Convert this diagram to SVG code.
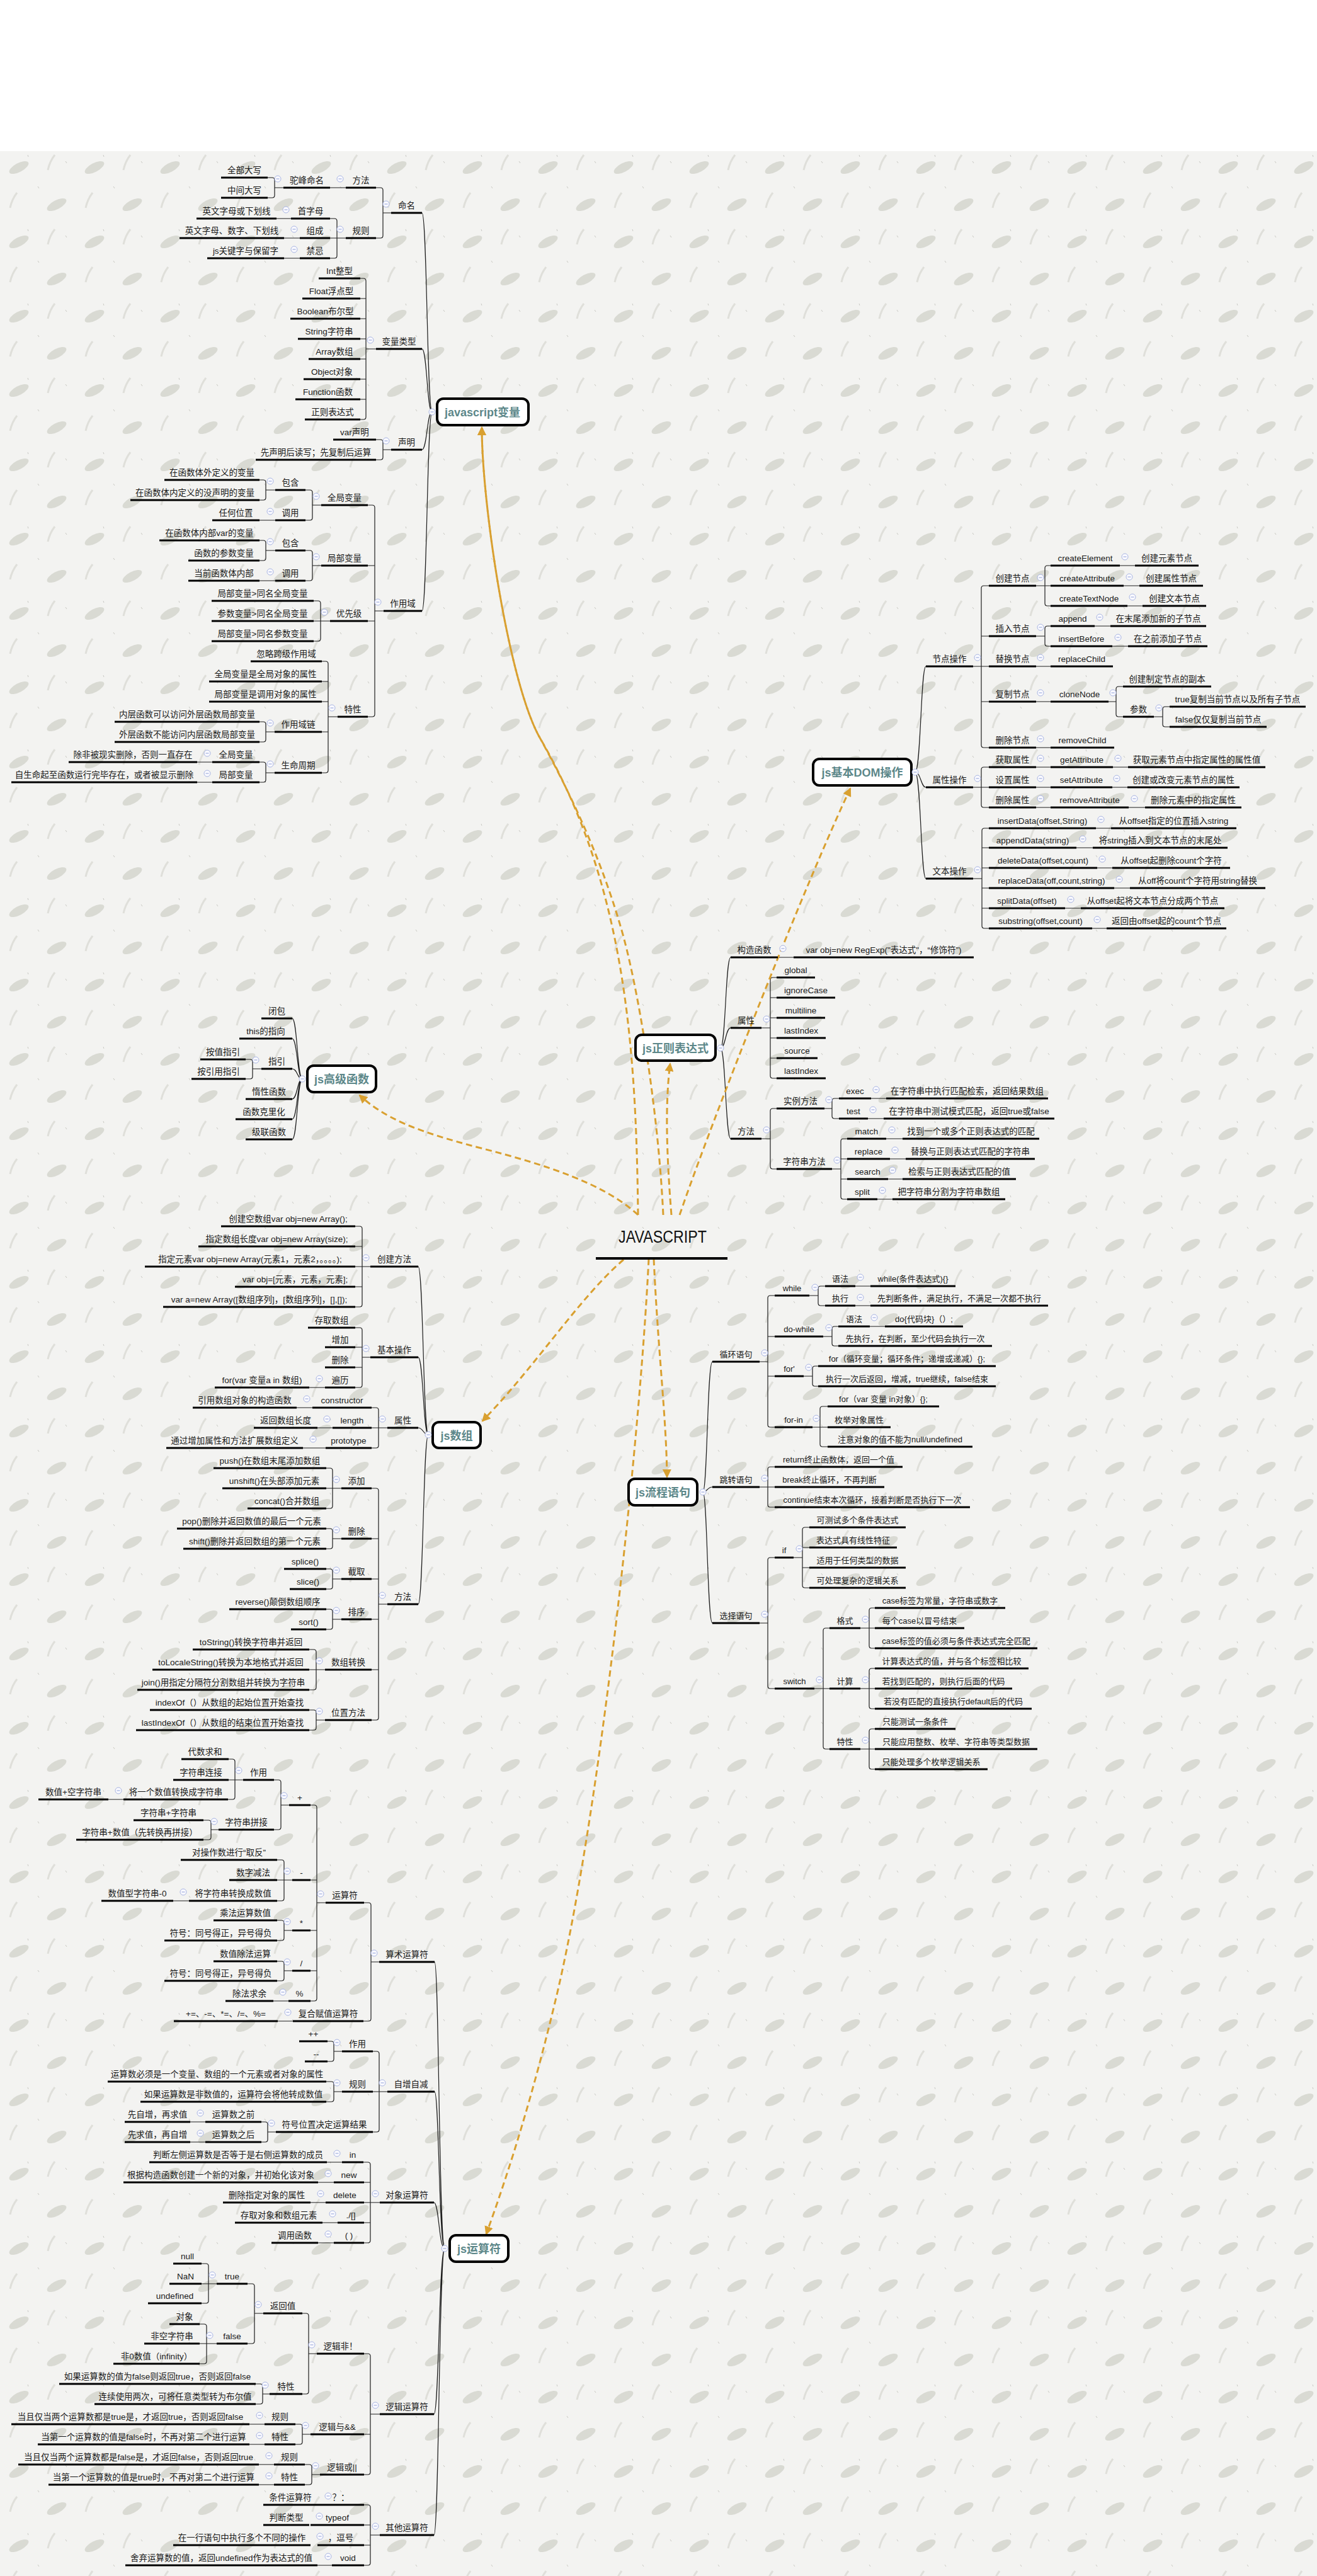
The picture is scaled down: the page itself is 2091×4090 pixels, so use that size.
<svg xmlns="http://www.w3.org/2000/svg" width="2091" height="4090" viewBox="0 0 2091 4090">
<defs>
<pattern id="bg" width="120" height="118" patternUnits="userSpaceOnUse">
<rect width="120" height="118" fill="#f3f3f1"/>
<ellipse cx="30" cy="30" rx="17" ry="7" transform="rotate(-28 30 30)" fill="#d9dad3"/>
<ellipse cx="90" cy="89" rx="17" ry="7" transform="rotate(-28 90 89)" fill="#d9dad3"/>
<path d="M76 34q3-14 11-24M16 94q3-14 11-24" stroke="#dfdfda" stroke-width="3" fill="none"/>
<path d="M60 60l2 3M104 20l2 3M44 10l1 3" stroke="#c9c9c4" stroke-width="1"/>
</pattern>
<marker id="ah" markerWidth="16" markerHeight="14" refX="12" refY="7" orient="auto" markerUnits="userSpaceOnUse"><path d="M0 0L14 7L0 14z" fill="#d9a030"/></marker>
<g id="cb"><circle r="5" fill="#fafaff" stroke="#a9b5e2" stroke-width="1"/><path d="M-2.5 0H2.5" stroke="#8f9fd6" stroke-width="1"/></g>
</defs>
<style>
.nd text{font-family:"Liberation Sans","Noto Sans CJK SC",sans-serif;font-size:13.5px;fill:#1a1a1a;text-anchor:middle}
.sm text{font-size:13px}
.nd path{stroke:#000;stroke-width:3;fill:none}
#connectors path{stroke:#1e1e1e;stroke-width:1.2;fill:none}
.box rect{fill:#fff;stroke:#000;stroke-width:4}
.box text{font-family:"Liberation Sans","Noto Sans CJK SC",sans-serif;font-weight:bold;font-size:18px;fill:#5c8789;text-anchor:middle}
.rel{stroke:#d9a030;stroke-width:3;fill:none;stroke-dasharray:10 6;marker-end:url(#ah)}
.root text{font-family:"Liberation Sans","Noto Sans CJK SC",sans-serif;font-size:27px;fill:#111;text-anchor:middle}
</style>
<rect width="2091" height="4090" fill="#fff"/>
<rect y="240" width="2091" height="3850" fill="url(#bg)"/>

<g id="connectors">
<path d="M686 654C678 654 678 338 670 338M686 654C678 654 678 554 670 554M686 654C678 654 678 714 670 714M686 654C678 654 678 970 670 970"/>
<path d="M621 338H608M597 298H604Q608 298 608 302V374Q608 378 604 378H597"/>
<path d="M549 298H524M450 298H436M425 282H432Q436 282 436 286V310Q436 314 432 314H425"/>
<path d="M549 378H524M524 347H531Q535 347 535 351V406Q535 410 531 410H524M462 347H439M476 378H451M476 410H451"/>
<path d="M597 554H581M572 442H577Q581 442 581 446V662Q581 666 577 666H572M581 474H572M581 506H572M581 538H572M581 570H572M581 602H572M581 634H572"/>
<path d="M621 714H608M597 698H604Q608 698 608 702V726Q608 730 604 730H597"/>
<path d="M609 970H595M584 802H591Q595 802 595 806V1134Q595 1138 591 1138H584M595 898H584M595 986H584"/>
<path d="M510 802H496M485 778H492Q496 778 496 782V822Q496 826 492 826H485M437 778H422M412 762H418Q422 762 422 766V790Q422 794 418 794H412M437 826H412"/>
<path d="M510 898H496M485 874H492Q496 874 496 878V918Q496 922 492 922H485M437 874H422M412 858H418Q422 858 422 862V886Q422 890 418 890H412M437 922H412"/>
<path d="M524 986H498M498 954H505Q509 954 509 958V1014Q509 1018 505 1018H498"/>
<path d="M536 1138H521M511 1050H517Q521 1050 521 1054V1223Q521 1227 517 1227H511M521 1082H511M521 1114H511M521 1162H511"/>
<path d="M436 1162H422M412 1146H418Q422 1146 422 1150V1174Q422 1178 418 1178H412M436 1227H422M412 1210H418Q422 1210 422 1214V1238Q422 1242 418 1242H412M337 1210H313M337 1242H313"/>

<path d="M1453 1226C1462 1226 1462 1058 1470 1058M1453 1226C1462 1226 1462 1250 1470 1250M1453 1226C1462 1226 1462 1395 1470 1395"/>
<path d="M1545 1058H1570M1570 930H1562Q1558 930 1558 934V1183Q1558 1187 1562 1187H1570M1558 1010H1570M1558 1114H1570"/>
<path d="M1645 930H1668M1668 898H1663Q1659 898 1659 902V958Q1659 962 1663 962H1668M1778 898H1802M1784 930H1809M1790 962H1814"/>
<path d="M1645 1010H1659M1668 994H1663Q1659 994 1659 998V1022Q1659 1026 1663 1026H1668M1738 994H1763M1766 1026H1791M1645 1058H1668M1645 1114H1668M1645 1187H1668"/>
<path d="M1760 1114H1772M1783 1090H1776Q1772 1090 1772 1094V1134Q1772 1138 1776 1138H1783M1832 1138H1846M1857 1122H1850Q1846 1122 1846 1126V1150Q1846 1154 1850 1154H1857"/>
<path d="M1545 1250H1570M1570 1218H1562Q1558 1218 1558 1222V1278Q1558 1282 1562 1282H1570M1645 1218H1668M1767 1218H1791M1645 1250H1668M1766 1250H1790M1645 1282H1668M1792 1282H1818"/>
<path d="M1545 1395H1559M1570 1315H1563Q1559 1315 1559 1319V1470Q1559 1474 1563 1474H1570M1559 1346H1570M1559 1378H1570M1559 1410H1570M1559 1442H1570M1740 1315H1764M1709 1346H1735M1742 1378H1766M1769 1410H1794M1691 1442H1716M1734 1474H1757"/>

<path d="M1144 1664C1152 1664 1152 1520 1160 1520M1144 1664C1152 1664 1152 1632 1160 1632M1144 1664C1152 1664 1152 1808 1160 1808M1235 1520H1260"/>
<path d="M1209 1632H1223M1233 1552H1227Q1223 1552 1223 1556V1708Q1223 1712 1227 1712H1233M1223 1584H1233M1223 1616H1233M1223 1648H1233M1223 1680H1233"/>
<path d="M1209 1808H1223M1233 1760H1227Q1223 1760 1223 1764V1852Q1223 1856 1227 1856H1233M1309 1760H1321M1332 1744H1325Q1321 1744 1321 1748V1772Q1321 1776 1325 1776H1332M1383 1744H1407M1378 1776H1403"/>
<path d="M1321 1856H1335M1345 1808H1339Q1335 1808 1335 1812V1900Q1335 1904 1339 1904H1345M1335 1840H1345M1335 1872H1345M1407 1808H1433M1413 1840H1438M1410 1872H1433M1393 1904H1417"/>

<path d="M480 1713C472 1713 472 1617 464 1617M480 1713C472 1713 472 1649 464 1649M480 1713C472 1713 472 1697 464 1697M480 1713C472 1713 472 1745 464 1745M480 1713C472 1713 472 1777 464 1777M480 1713C472 1713 472 1809 464 1809"/>
<path d="M415 1697H401M390 1682H397Q401 1682 401 1686V1709Q401 1713 397 1713H390"/>

<path d="M680 2278C672 2278 672 2011 664 2011M680 2278C672 2278 672 2155 664 2155M680 2278C672 2278 672 2267 664 2267M680 2278C672 2278 672 2547 664 2547"/>
<path d="M588 2011H564M564 1947H571Q575 1947 575 1951V2071Q575 2075 571 2075H564M575 1979H564M575 2043H564"/>
<path d="M588 2155H575M564 2108H571Q575 2108 575 2112V2199Q575 2203 571 2203H564M575 2139H564M575 2171H564M516 2203H491"/>
<path d="M615 2267H590M590 2235H597Q601 2235 601 2239V2295Q601 2299 597 2299H590M496 2235H471M528 2267H504M517 2299H481"/>
<path d="M615 2547H601M590 2363H597Q601 2363 601 2367V2727Q601 2731 597 2731H590M601 2443H590M601 2507H590M601 2571H590M601 2651H590"/>
<path d="M542 2363H518M518 2331H524Q528 2331 528 2335V2391Q528 2395 524 2395H518M542 2443H528M518 2427H524Q528 2427 528 2431V2455Q528 2459 524 2459H518"/>
<path d="M542 2507H528M518 2491H524Q528 2491 528 2495V2519Q528 2523 524 2523H518M542 2571H528M518 2555H524Q528 2555 528 2559V2583Q528 2587 524 2587H518"/>
<path d="M516 2651H491M491 2619H498Q502 2619 502 2623V2679Q502 2683 498 2683H491M516 2731H502M491 2715H498Q502 2715 502 2719V2743Q502 2747 498 2747H491"/>

<path d="M1116 2369C1123 2369 1123 2162 1131 2162M1116 2369C1123 2369 1123 2361 1131 2361M1116 2369C1123 2369 1123 2577 1131 2577"/>
<path d="M1206 2162H1219M1230 2057H1223Q1219 2057 1219 2061V2262Q1219 2266 1223 2266H1230M1219 2122H1230M1219 2185H1230"/>
<path d="M1285 2057H1299M1310 2042H1303Q1299 2042 1299 2046V2069Q1299 2073 1303 2073H1310M1358 2042H1382M1358 2073H1382"/>
<path d="M1307 2122H1321M1331 2106H1325Q1321 2106 1321 2110V2133Q1321 2137 1325 2137H1331M1381 2106H1405"/>
<path d="M1276 2185H1290M1299 2169H1294Q1290 2169 1290 2173V2197Q1290 2201 1294 2201H1299"/>
<path d="M1290 2266H1314M1314 2233H1306Q1302 2233 1302 2237V2293Q1302 2297 1306 2297H1314"/>
<path d="M1206 2361H1230M1230 2329H1223Q1219 2329 1219 2333V2389Q1219 2393 1223 2393H1230"/>
<path d="M1206 2577H1219M1230 2473H1223Q1219 2473 1219 2477V2677Q1219 2681 1223 2681H1230"/>
<path d="M1260 2473H1274M1285 2425H1278Q1274 2425 1274 2429V2517Q1274 2521 1278 2521H1285M1274 2457H1285M1274 2489H1285"/>
<path d="M1293 2681H1317M1317 2585H1311Q1307 2585 1307 2589V2773Q1307 2777 1311 2777H1317"/>
<path d="M1366 2585H1389M1389 2553H1384Q1380 2553 1380 2557V2613Q1380 2617 1384 2617H1389M1366 2681H1389M1389 2649H1384Q1380 2649 1380 2653V2709Q1380 2713 1384 2713H1389M1366 2777H1389M1389 2745H1384Q1380 2745 1380 2749V2805Q1380 2809 1384 2809H1389"/>

<path d="M706 3570C697 3570 697 3115 690 3115M706 3570C697 3570 697 3321 690 3321M706 3570C697 3570 697 3497 689 3497M706 3570C697 3570 697 3833 689 3833M706 3570C697 3570 697 4025 689 4025"/>
<path d="M602 3115H589M578 3021H585Q589 3021 589 3025V3205Q589 3209 585 3209H577M465 3209H441"/>
<path d="M517 3021H503M493 2866H499Q503 2866 503 2870V3173Q503 3177 499 3177H493M503 2985H493M503 3065H493M503 3129H493M458 3177H434"/>
<path d="M459 2866H446M435 2826H442Q446 2826 446 2830V2901Q446 2905 442 2905H435M386 2826H363M363 2793H369Q373 2793 373 2797V2853Q373 2857 369 2857H362M196 2857H172M347 2905H335M323 2890H331Q335 2890 335 2894V2917Q335 2921 331 2921H323"/>
<path d="M464 2985H440M440 2953H447Q451 2953 451 2957V3014Q451 3018 447 3018H440M300 3018H275M464 3065H451M440 3049H447Q451 3049 451 3053V3077Q451 3081 447 3081H440M464 3129H451M440 3114H447Q451 3114 451 3118V3141Q451 3145 447 3145H440"/>
<path d="M615 3321H592M592 3257H598Q602 3257 602 3261V3381Q602 3385 598 3385H592M543 3257H530M520 3241H526Q530 3241 530 3245V3269Q530 3273 526 3273H520M543 3321H530M518 3305H526Q530 3305 530 3309V3333Q530 3337 526 3337H518"/>
<path d="M438 3385H425M415 3369H421Q425 3369 425 3373V3397Q425 3401 421 3401H415M326 3369H302M326 3401H302"/>
<path d="M603 3497H578M577 3433H584Q588 3433 588 3437V3557Q588 3561 584 3561H578M588 3465H578M588 3529H578M543 3433H519M530 3465H505M517 3497H493M536 3529H512M530 3561H505"/>
<path d="M603 3833H588M578 3737H584Q588 3737 588 3741V3925Q588 3929 584 3929H578M588 3865H578"/>
<path d="M503 3737H490M480 3673H486Q490 3673 490 3677V3797Q490 3801 486 3801H480M418 3673H404M393 3626H400Q404 3626 404 3630V3717Q404 3721 400 3721H393"/>
<path d="M344 3626H320M320 3594H327Q331 3594 331 3598V3653Q331 3657 327 3657H320M344 3721H317M317 3690H324Q328 3690 328 3694V3749Q328 3753 324 3753H317M428 3801H417M406 3785H413Q417 3785 417 3789V3813Q417 3817 413 3817H406"/>
<path d="M493 3865H480M469 3849H476Q480 3849 480 3853V3877Q480 3881 476 3881H469M420 3849H396M420 3881H396M508 3929H495M484 3913H491Q495 3913 495 3917V3941Q495 3945 491 3945H484M435 3913H411M435 3945H411"/>
<path d="M603 4025H588M578 3977H584Q588 3977 588 3981V4069Q588 4073 584 4073H578M588 4009H578M588 4041H578M527 4073H504"/>
</g>

<g id="relations">
<path class="rel" d="M1013 1929C1010 1650 990 1400 858 1173C808 1087 765 800 765 679"/>
<path class="rel" d="M1053 1929C1045 1760 1012 1560 985 1470C950 1350 900 1250 858 1173C808 1087 765 800 765 679"/>
<path class="rel" d="M1079 1929C1130 1780 1280 1400 1350 1252"/>
<path class="rel" d="M1066 1929C1058 1830 1056 1750 1064 1689"/>
<path class="rel" d="M1013 1929C960 1880 870 1850 760 1822C660 1796 610 1775 571 1739"/>
<path class="rel" d="M990 2000C920 2060 850 2170 766 2256"/>
<path class="rel" d="M1038 1999C1045 2150 1058 2250 1059 2345"/>
<path class="rel" d="M1030 1999C1015 2300 950 2900 880 3184C840 3350 800 3470 772 3547"/>
</g>

<g id="n-root" class="root"><text x="1052" y="1973" textLength="140" lengthAdjust="spacingAndGlyphs">JAVASCRIPT</text><path d="M946 1998H1155" stroke="#000" stroke-width="4"/></g>

<g id="n-var" class="box"><rect x="694" y="633" width="145" height="42" rx="10"/><text x="766" y="661">javascript变量</text></g>
<g id="n-dom" class="box"><rect x="1291" y="1205" width="156" height="42" rx="10"/><text x="1369" y="1233">js基本DOM操作</text></g>
<g id="n-reg" class="box"><rect x="1009" y="1643" width="127" height="41" rx="10"/><text x="1072.5" y="1671">js正则表达式</text></g>
<g id="n-fun" class="box"><rect x="488" y="1692" width="109" height="42" rx="10"/><text x="542.5" y="1720">js高级函数</text></g>
<g id="n-arr" class="box"><rect x="687" y="2258" width="76" height="41" rx="10"/><text x="725" y="2286">js数组</text></g>
<g id="n-flow" class="box"><rect x="998" y="2348" width="109" height="42" rx="10"/><text x="1052.5" y="2376">js流程语句</text></g>
<g id="n-op" class="box"><rect x="714" y="3549" width="93" height="42" rx="10"/><text x="760.5" y="3577">js运算符</text></g>

<g id="sec-var" class="nd">
<g id="v1"><text x="645.5" y="331">命名</text><path d="M621 338H670"/></g>
<g id="v2"><text x="573" y="291">方法</text><path d="M549 298H597"/></g>
<g id="v3"><text x="573" y="371">规则</text><path d="M549 378H597"/></g>
<g id="v4"><text x="487" y="291">驼峰命名</text><path d="M450 298H524"/></g>
<g id="v5"><text x="388" y="275">全部大写</text><path d="M351 282H425"/></g>
<g id="v6"><text x="388" y="307">中间大写</text><path d="M351 314H425"/></g>
<g id="v7"><text x="493" y="340">首字母</text><path d="M462 347H524"/></g>
<g id="v8"><text x="500" y="371">组成</text><path d="M476 378H524"/></g>
<g id="v9"><text x="500" y="403">禁忌</text><path d="M476 410H524"/></g>
<g id="v10"><text x="375.5" y="340">英文字母或下划线</text><path d="M312 347H439"/></g>
<g id="v11"><text x="368" y="371">英文字母、数字、下划线</text><path d="M285 378H451"/></g>
<g id="v12"><text x="390" y="403">js关键字与保留字</text><path d="M329 410H451"/></g>
<g id="v13"><text x="633.5" y="547">变量类型</text><path d="M597 554H670"/></g>
<g id="v14"><text x="539" y="435">Int整型</text><path d="M506 442H572"/></g>
<g id="v15"><text x="526" y="467">Float浮点型</text><path d="M480 474H572"/></g>
<g id="v16"><text x="516.5" y="499">Boolean布尔型</text><path d="M461 506H572"/></g>
<g id="v17"><text x="522.5" y="531">String字符串</text><path d="M473 538H572"/></g>
<g id="v18"><text x="531" y="563">Array数组</text><path d="M490 570H572"/></g>
<g id="v19"><text x="527" y="595">Object对象</text><path d="M482 602H572"/></g>
<g id="v20"><text x="520.5" y="627">Function函数</text><path d="M469 634H572"/></g>
<g id="v21"><text x="528" y="659">正则表达式</text><path d="M484 666H572"/></g>
<g id="v22"><text x="645.5" y="707">声明</text><path d="M621 714H670"/></g>
<g id="v23"><text x="563" y="691">var声明</text><path d="M529 698H597"/></g>
<g id="v24"><text x="501.5" y="723">先声明后读写；先复制后运算</text><path d="M406 730H597"/></g>
<g id="v25"><text x="639.5" y="963">作用域</text><path d="M609 970H670"/></g>
<g id="v26"><text x="547" y="795">全局变量</text><path d="M510 802H584"/></g>
<g id="v27"><text x="547" y="891">局部变量</text><path d="M510 898H584"/></g>
<g id="v28"><text x="554" y="979">优先级</text><path d="M524 986H584"/></g>
<g id="v29"><text x="560" y="1131">特性</text><path d="M536 1138H584"/></g>
<g id="v30"><text x="461" y="771">包含</text><path d="M437 778H485"/></g>
<g id="v31"><text x="461" y="819">调用</text><path d="M437 826H485"/></g>
<g id="v32"><text x="336.5" y="755">在函数体外定义的变量</text><path d="M261 762H412"/></g>
<g id="v33"><text x="309.5" y="787">在函数体内定义的没声明的变量</text><path d="M207 794H412"/></g>
<g id="v34"><text x="374.5" y="819">任何位置</text><path d="M337 826H412"/></g>
<g id="v35"><text x="461" y="867">包含</text><path d="M437 874H485"/></g>
<g id="v36"><text x="461" y="915">调用</text><path d="M437 922H485"/></g>
<g id="v37"><text x="332.5" y="851">在函数体内部var的变量</text><path d="M253 858H412"/></g>
<g id="v38"><text x="355.5" y="883">函数的参数变量</text><path d="M299 890H412"/></g>
<g id="v39"><text x="355.5" y="915">当前函数体内部</text><path d="M299 922H412"/></g>
<g id="v40"><text x="417" y="947">局部变量&gt;同名全局变量</text><path d="M336 954H498"/></g>
<g id="v41"><text x="417" y="979">参数变量&gt;同名全局变量</text><path d="M336 986H498"/></g>
<g id="v42"><text x="417" y="1011">局部变量&gt;同名参数变量</text><path d="M336 1018H498"/></g>
<g id="v43"><text x="454.5" y="1043">忽略跨级作用域</text><path d="M398 1050H511"/></g>
<g id="v44"><text x="421.5" y="1075">全局变量是全局对象的属性</text><path d="M332 1082H511"/></g>
<g id="v45"><text x="421.5" y="1107">局部变量是调用对象的属性</text><path d="M332 1114H511"/></g>
<g id="v46"><text x="473.5" y="1155">作用域链</text><path d="M436 1162H511"/></g>
<g id="v47"><text x="473.5" y="1220">生命周期</text><path d="M436 1227H511"/></g>
<g id="v48"><text x="297" y="1139">内层函数可以访问外层函数局部变量</text><path d="M182 1146H412"/></g>
<g id="v49"><text x="297" y="1171">外层函数不能访问内层函数局部变量</text><path d="M182 1178H412"/></g>
<g id="v50"><text x="374.5" y="1203">全局变量</text><path d="M337 1210H412"/></g>
<g id="v51"><text x="374.5" y="1235">局部变量</text><path d="M337 1242H412"/></g>
<g id="v52"><text x="211" y="1203">除非被现实删除，否则一直存在</text><path d="M109 1210H313"/></g>
<g id="v53"><text x="165.5" y="1235">自生命起至函数运行完毕存在，或者被显示删除</text><path d="M18 1242H313"/></g>
</g>

<g id="sec-dom" class="nd">
<g id="d1"><text x="1507.5" y="1051">节点操作</text><path d="M1470 1058H1545"/></g>
<g id="d2"><text x="1507.5" y="1243">属性操作</text><path d="M1470 1250H1545"/></g>
<g id="d3"><text x="1507.5" y="1388">文本操作</text><path d="M1470 1395H1545"/></g>
<g id="d4"><text x="1607.5" y="923">创建节点</text><path d="M1570 930H1645"/></g>
<g id="d5"><text x="1607.5" y="1003">插入节点</text><path d="M1570 1010H1645"/></g>
<g id="d6"><text x="1607.5" y="1051">替换节点</text><path d="M1570 1058H1645"/></g>
<g id="d7"><text x="1607.5" y="1107">复制节点</text><path d="M1570 1114H1645"/></g>
<g id="d8"><text x="1607.5" y="1180">删除节点</text><path d="M1570 1187H1645"/></g>
<g id="d9"><text x="1723" y="891">createElement</text><path d="M1668 898H1778"/></g>
<g id="d10"><text x="1852.5" y="891">创建元素节点</text><path d="M1802 898H1903"/></g>
<g id="d11"><text x="1726" y="923">createAttribute</text><path d="M1668 930H1784"/></g>
<g id="d12"><text x="1859.5" y="923">创建属性节点</text><path d="M1809 930H1910"/></g>
<g id="d13"><text x="1729" y="955">createTextNode</text><path d="M1668 962H1790"/></g>
<g id="d14"><text x="1864.5" y="955">创建文本节点</text><path d="M1814 962H1915"/></g>
<g id="d15"><text x="1703" y="987">append</text><path d="M1668 994H1738"/></g>
<g id="d16"><text x="1839" y="987">在末尾添加新的子节点</text><path d="M1763 994H1915"/></g>
<g id="d17"><text x="1717" y="1019">insertBefore</text><path d="M1668 1026H1766"/></g>
<g id="d18"><text x="1854" y="1019">在之前添加子节点</text><path d="M1791 1026H1917"/></g>
<g id="d19"><text x="1717.5" y="1051">replaceChild</text><path d="M1668 1058H1767"/></g>
<g id="d20"><text x="1714" y="1107">cloneNode</text><path d="M1668 1114H1760"/></g>
<g id="d21"><text x="1853" y="1083">创建制定节点的副本</text><path d="M1783 1090H1923"/></g>
<g id="d22"><text x="1807.5" y="1131">参数</text><path d="M1783 1138H1832"/></g>
<g id="d23"><text x="1965" y="1115">true复制当前节点以及所有子节点</text><path d="M1857 1122H2073"/></g>
<g id="d24"><text x="1934" y="1147">false仅仅复制当前节点</text><path d="M1857 1154H2011"/></g>
<g id="d25"><text x="1718.5" y="1180">removeChild</text><path d="M1668 1187H1769"/></g>
<g id="d26"><text x="1607.5" y="1211">获取属性</text><path d="M1570 1218H1645"/></g>
<g id="d27"><text x="1607.5" y="1243">设置属性</text><path d="M1570 1250H1645"/></g>
<g id="d28"><text x="1607.5" y="1275">删除属性</text><path d="M1570 1282H1645"/></g>
<g id="d29"><text x="1717.5" y="1211">getAttribute</text><path d="M1668 1218H1767"/></g>
<g id="d30"><text x="1900" y="1211">获取元素节点中指定属性的属性值</text><path d="M1791 1218H2009"/></g>
<g id="d31"><text x="1717" y="1243">setAttribute</text><path d="M1668 1250H1766"/></g>
<g id="d32"><text x="1879" y="1243">创建或改变元素节点的属性</text><path d="M1790 1250H1968"/></g>
<g id="d33"><text x="1730" y="1275">removeAttribute</text><path d="M1668 1282H1792"/></g>
<g id="d34"><text x="1894.5" y="1275">删除元素中的指定属性</text><path d="M1818 1282H1971"/></g>
<g id="d35"><text x="1655" y="1308">insertData(offset,String)</text><path d="M1570 1315H1740"/></g>
<g id="d36"><text x="1863.5" y="1308">从offset指定的位置插入string</text><path d="M1764 1315H1963"/></g>
<g id="d37"><text x="1639.5" y="1339">appendData(string)</text><path d="M1570 1346H1709"/></g>
<g id="d38"><text x="1842" y="1339">将string插入到文本节点的末尾处</text><path d="M1735 1346H1949"/></g>
<g id="d39"><text x="1656" y="1371">deleteData(offset,count)</text><path d="M1570 1378H1742"/></g>
<g id="d40"><text x="1859.5" y="1371">从offset起删除count个字符</text><path d="M1766 1378H1953"/></g>
<g id="d41"><text x="1669.5" y="1403">replaceData(off,count,string)</text><path d="M1570 1410H1769"/></g>
<g id="d42"><text x="1901.5" y="1403">从off将count个字符用string替换</text><path d="M1794 1410H2009"/></g>
<g id="d43"><text x="1630.5" y="1435">splitData(offset)</text><path d="M1570 1442H1691"/></g>
<g id="d44"><text x="1830" y="1435">从offset起将文本节点分成两个节点</text><path d="M1716 1442H1944"/></g>
<g id="d45"><text x="1652" y="1467">substring(offset,count)</text><path d="M1570 1474H1734"/></g>
<g id="d46"><text x="1852" y="1467">返回由offset起的count个节点</text><path d="M1757 1474H1947"/></g>
</g>

<g id="sec-reg" class="nd">
<g id="r1"><text x="1197.5" y="1513">构造函数</text><path d="M1160 1520H1235"/></g>
<g id="r2"><text x="1184.5" y="1625">属性</text><path d="M1160 1632H1209"/></g>
<g id="r3"><text x="1184.5" y="1801">方法</text><path d="M1160 1808H1209"/></g>
<g id="r4"><text x="1403" y="1513">var obj=new RegExp("表达式"，“修饰符”)</text><path d="M1260 1520H1546"/></g>
<g id="r5"><text x="1263.5" y="1545">global</text><path d="M1233 1552H1294"/></g>
<g id="r6"><text x="1279.5" y="1577">ignoreCase</text><path d="M1233 1584H1326"/></g>
<g id="r7"><text x="1271.5" y="1609">multiline</text><path d="M1233 1616H1310"/></g>
<g id="r8"><text x="1272" y="1641">lastIndex</text><path d="M1233 1648H1311"/></g>
<g id="r9"><text x="1265.5" y="1673">source</text><path d="M1233 1680H1298"/></g>
<g id="r10"><text x="1272" y="1705">lastIndex</text><path d="M1233 1712H1311"/></g>
<g id="r11"><text x="1271" y="1753">实例方法</text><path d="M1233 1760H1309"/></g>
<g id="r12"><text x="1277" y="1849">字符串方法</text><path d="M1233 1856H1321"/></g>
<g id="r13"><text x="1357.5" y="1737">exec</text><path d="M1332 1744H1383"/></g>
<g id="r14"><text x="1535.5" y="1737">在字符串中执行匹配检索，返回结果数组</text><path d="M1407 1744H1664"/></g>
<g id="r15"><text x="1355" y="1769">test</text><path d="M1332 1776H1378"/></g>
<g id="r16"><text x="1538.5" y="1769">在字符串中测试模式匹配，返回true或false</text><path d="M1403 1776H1674"/></g>
<g id="r17"><text x="1376" y="1801">match</text><path d="M1345 1808H1407"/></g>
<g id="r18"><text x="1541.5" y="1801">找到一个或多个正则表达式的匹配</text><path d="M1433 1808H1650"/></g>
<g id="r19"><text x="1379" y="1833">replace</text><path d="M1345 1840H1413"/></g>
<g id="r20"><text x="1540.5" y="1833">替换与正则表达式匹配的字符串</text><path d="M1438 1840H1643"/></g>
<g id="r21"><text x="1377.5" y="1865">search</text><path d="M1345 1872H1410"/></g>
<g id="r22"><text x="1523" y="1865">检索与正则表达式匹配的值</text><path d="M1433 1872H1613"/></g>
<g id="r23"><text x="1369" y="1897">split</text><path d="M1345 1904H1393"/></g>
<g id="r24"><text x="1506.5" y="1897">把字符串分割为字符串数组</text><path d="M1417 1904H1596"/></g>
</g>

<g id="sec-fun" class="nd">
<g id="h1"><text x="439.5" y="1610">闭包</text><path d="M415 1617H464"/></g>
<g id="h2"><text x="422" y="1642">this的指向</text><path d="M380 1649H464"/></g>
<g id="h3"><text x="439.5" y="1690">指引</text><path d="M415 1697H464"/></g>
<g id="h4"><text x="354" y="1675">按值指引</text><path d="M318 1682H390"/></g>
<g id="h5"><text x="347" y="1706">按引用指引</text><path d="M304 1713H390"/></g>
<g id="h6"><text x="427" y="1738">惰性函数</text><path d="M390 1745H464"/></g>
<g id="h7"><text x="419" y="1770">函数克里化</text><path d="M374 1777H464"/></g>
<g id="h8"><text x="427" y="1802">级联函数</text><path d="M390 1809H464"/></g>
</g>

<g id="sec-arr" class="nd">
<g id="a1"><text x="626" y="2004">创建方法</text><path d="M588 2011H664"/></g>
<g id="a2"><text x="626" y="2148">基本操作</text><path d="M588 2155H664"/></g>
<g id="a3"><text x="639.5" y="2260">属性</text><path d="M615 2267H664"/></g>
<g id="a4"><text x="639.5" y="2540">方法</text><path d="M615 2547H664"/></g>
<g id="a5"><text x="457.5" y="1940">创建空数组var obj=new Array();</text><path d="M351 1947H564"/></g>
<g id="a6"><text x="439.5" y="1972">指定数组长度var obj=new Array(size);</text><path d="M315 1979H564"/></g>
<g id="a7"><text x="397" y="2004">指定元素var obj=new Array(元素1，元素2，。。。。);</text><path d="M230 2011H564"/></g>
<g id="a8"><text x="468.5" y="2036">var obj=[元素，元素，元素];</text><path d="M373 2043H564"/></g>
<g id="a9"><text x="411.5" y="2068">var a=new Array([数组序列]，[数组序列]，[],[]);</text><path d="M259 2075H564"/></g>
<g id="a10"><text x="526.5" y="2101">存取数组</text><path d="M489 2108H564"/></g>
<g id="a11"><text x="540" y="2132">增加</text><path d="M516 2139H564"/></g>
<g id="a12"><text x="540" y="2164">删除</text><path d="M516 2171H564"/></g>
<g id="a13"><text x="540" y="2196">遍历</text><path d="M516 2203H564"/></g>
<g id="a14"><text x="416" y="2196">for(var 变量a in 数组)</text><path d="M341 2203H491"/></g>
<g id="a15"><text x="543" y="2228">constructor</text><path d="M496 2235H590"/></g>
<g id="a16"><text x="388.5" y="2228">引用数组对象的构造函数</text><path d="M306 2235H471"/></g>
<g id="a17"><text x="559" y="2260">length</text><path d="M528 2267H590"/></g>
<g id="a18"><text x="453.5" y="2260">返回数组长度</text><path d="M403 2267H504"/></g>
<g id="a19"><text x="553.5" y="2292">prototype</text><path d="M517 2299H590"/></g>
<g id="a20"><text x="372.5" y="2292">通过增加属性和方法扩展数组定义</text><path d="M264 2299H481"/></g>
<g id="a21"><text x="566" y="2356">添加</text><path d="M542 2363H590"/></g>
<g id="a22"><text x="566" y="2436">删除</text><path d="M542 2443H590"/></g>
<g id="a23"><text x="566" y="2500">截取</text><path d="M542 2507H590"/></g>
<g id="a24"><text x="566" y="2564">排序</text><path d="M542 2571H590"/></g>
<g id="a25"><text x="553" y="2644">数组转换</text><path d="M516 2651H590"/></g>
<g id="a26"><text x="553" y="2724">位置方法</text><path d="M516 2731H590"/></g>
<g id="a27"><text x="428.5" y="2324">push()在数组末尾添加数组</text><path d="M339 2331H518"/></g>
<g id="a28"><text x="435.5" y="2356">unshift()在头部添加元素</text><path d="M353 2363H518"/></g>
<g id="a29"><text x="455.5" y="2388">concat()合并数组</text><path d="M393 2395H518"/></g>
<g id="a30"><text x="399.5" y="2420">pop()删除并返回数值的最后一个元素</text><path d="M281 2427H518"/></g>
<g id="a31"><text x="404.5" y="2452">shift()删除并返回数组的第一个元素</text><path d="M291 2459H518"/></g>
<g id="a32"><text x="484.5" y="2484">splice()</text><path d="M451 2491H518"/></g>
<g id="a33"><text x="489" y="2516">slice()</text><path d="M460 2523H518"/></g>
<g id="a34"><text x="441" y="2548">reverse()颠倒数组顺序</text><path d="M364 2555H518"/></g>
<g id="a35"><text x="490" y="2580">sort()</text><path d="M462 2587H518"/></g>
<g id="a36"><text x="398.5" y="2612">toString()转换字符串并返回</text><path d="M306 2619H491"/></g>
<g id="a37"><text x="366.5" y="2644">toLocaleString()转换为本地格式并返回</text><path d="M242 2651H491"/></g>
<g id="a38"><text x="354.5" y="2676">join()用指定分隔符分割数组并转换为字符串</text><path d="M218 2683H491"/></g>
<g id="a39"><text x="364.5" y="2708">indexOf（）从数组的起始位置开始查找</text><path d="M238 2715H491"/></g>
<g id="a40"><text x="353.5" y="2740">lastIndexOf（）从数组的结束位置开始查找</text><path d="M216 2747H491"/></g>
</g>

<g id="sec-flow" class="nd sm">
<g id="f1"><text x="1168.5" y="2155">循环语句</text><path d="M1131 2162H1206"/></g>
<g id="f2"><text x="1168.5" y="2354">跳转语句</text><path d="M1131 2361H1206"/></g>
<g id="f3"><text x="1168.5" y="2570">选择语句</text><path d="M1131 2577H1206"/></g>
<g id="f4"><text x="1257.5" y="2050">while</text><path d="M1230 2057H1285"/></g>
<g id="f5"><text x="1268.5" y="2115">do-while</text><path d="M1230 2122H1307"/></g>
<g id="f6"><text x="1253" y="2178">for'</text><path d="M1230 2185H1276"/></g>
<g id="f7"><text x="1260" y="2259">for-in</text><path d="M1230 2266H1290"/></g>
<g id="f8"><text x="1334" y="2035">语法</text><path d="M1310 2042H1358"/></g>
<g id="f9"><text x="1334" y="2066">执行</text><path d="M1310 2073H1358"/></g>
<g id="f10"><text x="1449.5" y="2035">while(条件表达式){}</text><path d="M1382 2042H1517"/></g>
<g id="f11"><text x="1523" y="2066">先判断条件，满足执行，不满足一次都不执行</text><path d="M1382 2073H1664"/></g>
<g id="f12"><text x="1356" y="2099">语法</text><path d="M1331 2106H1381"/></g>
<g id="f13"><text x="1453" y="2130">先执行，在判断，至少代码会执行一次</text><path d="M1331 2137H1575"/></g>
<g id="f14"><text x="1467" y="2099">do{代码块}（）;</text><path d="M1405 2106H1529"/></g>
<g id="f15"><text x="1440" y="2162">for（循环变量；循环条件；递增或递减）{};</text><path d="M1299 2169H1581"/></g>
<g id="f16"><text x="1440" y="2194">执行一次后返回，增减，true继续，false结束</text><path d="M1299 2201H1581"/></g>
<g id="f17"><text x="1402.5" y="2226">for（var 变量 in对象）{};</text><path d="M1314 2233H1491"/></g>
<g id="f18"><text x="1364" y="2259">枚举对象属性</text><path d="M1314 2266H1414"/></g>
<g id="f19"><text x="1429" y="2290">注意对象的值不能为null/undefined</text><path d="M1314 2297H1544"/></g>
<g id="f20"><text x="1331.5" y="2322">return终止函数体，返回一个值</text><path d="M1230 2329H1433"/></g>
<g id="f21"><text x="1317" y="2354">break终止循环，不再判断</text><path d="M1230 2361H1404"/></g>
<g id="f22"><text x="1385" y="2386">continue结束本次循环，接着判断是否执行下一次</text><path d="M1230 2393H1540"/></g>
<g id="f23"><text x="1245" y="2466">if</text><path d="M1230 2473H1260"/></g>
<g id="f24"><text x="1261.5" y="2674">switch</text><path d="M1230 2681H1293"/></g>
<g id="f25"><text x="1361.5" y="2418">可测试多个条件表达式</text><path d="M1285 2425H1438"/></g>
<g id="f26"><text x="1354.5" y="2450">表达式具有线性特征</text><path d="M1285 2457H1424"/></g>
<g id="f27"><text x="1361.5" y="2482">适用于任何类型的数据</text><path d="M1285 2489H1438"/></g>
<g id="f28"><text x="1361.5" y="2514">可处理复杂的逻辑关系</text><path d="M1285 2521H1438"/></g>
<g id="f29"><text x="1341.5" y="2578">格式</text><path d="M1317 2585H1366"/></g>
<g id="f30"><text x="1341.5" y="2674">计算</text><path d="M1317 2681H1366"/></g>
<g id="f31"><text x="1341.5" y="2770">特性</text><path d="M1317 2777H1366"/></g>
<g id="f32"><text x="1492.5" y="2546">case标签为常量，字符串或数字</text><path d="M1389 2553H1596"/></g>
<g id="f33"><text x="1460" y="2578">每个case以冒号结束</text><path d="M1389 2585H1531"/></g>
<g id="f34"><text x="1518" y="2610">case标签的值必须与条件表达式完全匹配</text><path d="M1389 2617H1647"/></g>
<g id="f35"><text x="1511" y="2642">计算表达式的值，并与各个标签相比较</text><path d="M1389 2649H1633"/></g>
<g id="f36"><text x="1498" y="2674">若找到匹配的，则执行后面的代码</text><path d="M1389 2681H1607"/></g>
<g id="f37"><text x="1513.5" y="2706">若没有匹配的直接执行default后的代码</text><path d="M1389 2713H1638"/></g>
<g id="f38"><text x="1453" y="2738">只能测试一条条件</text><path d="M1389 2745H1517"/></g>
<g id="f39"><text x="1518" y="2770">只能应用整数、枚举、字符串等类型数据</text><path d="M1389 2777H1647"/></g>
<g id="f40"><text x="1478.5" y="2802">只能处理多个枚举逻辑关系</text><path d="M1389 2809H1568"/></g>
</g>

<g id="sec-op" class="nd">
<g id="o1"><text x="646" y="3108">算术运算符</text><path d="M602 3115H690"/></g>
<g id="o2"><text x="652.5" y="3314">自增自减</text><path d="M615 3321H690"/></g>
<g id="o3"><text x="646" y="3490">对象运算符</text><path d="M603 3497H689"/></g>
<g id="o4"><text x="646" y="3826">逻辑运算符</text><path d="M603 3833H689"/></g>
<g id="o5"><text x="646" y="4018">其他运算符</text><path d="M603 4025H689"/></g>
<g id="o6"><text x="547.5" y="3014">运算符</text><path d="M517 3021H578"/></g>
<g id="o7"><text x="521" y="3202">复合赋值运算符</text><path d="M465 3209H577"/></g>
<g id="o8"><text x="358.5" y="3202">+=、-=、*=、/=、%=</text><path d="M276 3209H441"/></g>
<g id="o9"><text x="476" y="2859">+</text><path d="M459 2866H493"/></g>
<g id="o10"><text x="478.5" y="2978">-</text><path d="M464 2985H493"/></g>
<g id="o11"><text x="478.5" y="3058">*</text><path d="M464 3065H493"/></g>
<g id="o12"><text x="478.5" y="3122">/</text><path d="M464 3129H493"/></g>
<g id="o13"><text x="475.5" y="3170">%</text><path d="M458 3177H493"/></g>
<g id="o14"><text x="410.5" y="2819">作用</text><path d="M386 2826H435"/></g>
<g id="o15"><text x="391" y="2898">字符串拼接</text><path d="M347 2905H435"/></g>
<g id="o16"><text x="325.5" y="2786">代数求和</text><path d="M288 2793H363"/></g>
<g id="o17"><text x="319" y="2819">字符串连接</text><path d="M275 2826H363"/></g>
<g id="o18"><text x="279" y="2850">将一个数值转换成字符串</text><path d="M196 2857H362"/></g>
<g id="o19"><text x="116.5" y="2850">数值+空字符串</text><path d="M61 2857H172"/></g>
<g id="o20"><text x="267.5" y="2883">字符串+字符串</text><path d="M212 2890H323"/></g>
<g id="o21"><text x="222" y="2914">字符串+数值（先转换再拼接）</text><path d="M121 2921H323"/></g>
<g id="o22"><text x="363.5" y="2946">对操作数进行“取反”</text><path d="M287 2953H440"/></g>
<g id="o23"><text x="402" y="2978">数字减法</text><path d="M364 2985H440"/></g>
<g id="o24"><text x="370" y="3011">将字符串转换成数值</text><path d="M300 3018H440"/></g>
<g id="o25"><text x="218" y="3011">数值型字符串-0</text><path d="M161 3018H275"/></g>
<g id="o26"><text x="389.5" y="3042">乘法运算数值</text><path d="M339 3049H440"/></g>
<g id="o27"><text x="350.5" y="3074">符号：同号得正，异号得负</text><path d="M261 3081H440"/></g>
<g id="o28"><text x="389.5" y="3107">数值除法运算</text><path d="M339 3114H440"/></g>
<g id="o29"><text x="350.5" y="3138">符号：同号得正，异号得负</text><path d="M261 3145H440"/></g>
<g id="o30"><text x="396" y="3170">除法求余</text><path d="M358 3177H434"/></g>
<g id="o31"><text x="567.5" y="3250">作用</text><path d="M543 3257H592"/></g>
<g id="o32"><text x="567.5" y="3314">规则</text><path d="M543 3321H592"/></g>
<g id="o33"><text x="515" y="3378">符号位置决定运算结果</text><path d="M438 3385H592"/></g>
<g id="o34"><text x="497.5" y="3234">++</text><path d="M475 3241H520"/></g>
<g id="o35"><text x="502" y="3266">--</text><path d="M484 3273H520"/></g>
<g id="o36"><text x="344.5" y="3298">运算数必须是一个变量、数组的一个元素或者对象的属性</text><path d="M171 3305H518"/></g>
<g id="o37"><text x="370.5" y="3330">如果运算数是非数值的，运算符会将他转成数值</text><path d="M223 3337H518"/></g>
<g id="o38"><text x="370.5" y="3362">运算数之前</text><path d="M326 3369H415"/></g>
<g id="o39"><text x="370.5" y="3394">运算数之后</text><path d="M326 3401H415"/></g>
<g id="o40"><text x="250" y="3362">先自增，再求值</text><path d="M198 3369H302"/></g>
<g id="o41"><text x="250" y="3394">先求值，再自增</text><path d="M198 3401H302"/></g>
<g id="o42"><text x="560" y="3426">in</text><path d="M543 3433H577"/></g>
<g id="o43"><text x="378" y="3426">判断左侧运算数是否等于是右侧运算数的成员</text><path d="M237 3433H519"/></g>
<g id="o44"><text x="554" y="3458">new</text><path d="M530 3465H578"/></g>
<g id="o45"><text x="350.5" y="3458">根据构造函数创建一个新的对象，并初始化该对象</text><path d="M196 3465H505"/></g>
<g id="o46"><text x="547.5" y="3490">delete</text><path d="M517 3497H578"/></g>
<g id="o47"><text x="423.5" y="3490">删除指定对象的属性</text><path d="M354 3497H493"/></g>
<g id="o48"><text x="557" y="3522">./[]</text><path d="M536 3529H578"/></g>
<g id="o49"><text x="442.5" y="3522">存取对象和数组元素</text><path d="M373 3529H512"/></g>
<g id="o50"><text x="554" y="3554">( )</text><path d="M530 3561H578"/></g>
<g id="o51"><text x="468" y="3554">调用函数</text><path d="M431 3561H505"/></g>
<g id="o52"><text x="540.5" y="3730">逻辑非！</text><path d="M503 3737H578"/></g>
<g id="o53"><text x="535.5" y="3858">逻辑与&amp;&amp;</text><path d="M493 3865H578"/></g>
<g id="o54"><text x="543" y="3922">逻辑或||</text><path d="M508 3929H578"/></g>
<g id="o55"><text x="449" y="3666">返回值</text><path d="M418 3673H480"/></g>
<g id="o56"><text x="454" y="3794">特性</text><path d="M428 3801H480"/></g>
<g id="o57"><text x="368.5" y="3619">true</text><path d="M344 3626H393"/></g>
<g id="o58"><text x="368.5" y="3714">false</text><path d="M344 3721H393"/></g>
<g id="o59"><text x="297.5" y="3587">null</text><path d="M275 3594H320"/></g>
<g id="o60"><text x="294.5" y="3619">NaN</text><path d="M269 3626H320"/></g>
<g id="o61"><text x="277.5" y="3650">undefined</text><path d="M235 3657H320"/></g>
<g id="o62"><text x="293" y="3683">对象</text><path d="M269 3690H317"/></g>
<g id="o63"><text x="273" y="3714">非空字符串</text><path d="M229 3721H317"/></g>
<g id="o64"><text x="248.5" y="3746">非0数值（infinity）</text><path d="M180 3753H317"/></g>
<g id="o65"><text x="250" y="3778">如果运算数的值为false则返回true，否则返回false</text><path d="M94 3785H406"/></g>
<g id="o66"><text x="278" y="3810">连续使用两次，可将任意类型转为布尔值</text><path d="M150 3817H406"/></g>
<g id="o67"><text x="444.5" y="3842">规则</text><path d="M420 3849H469"/></g>
<g id="o68"><text x="444.5" y="3874">特性</text><path d="M420 3881H469"/></g>
<g id="o69"><text x="207" y="3842">当且仅当两个运算数都是true是，才返回true，否则返回false</text><path d="M18 3849H396"/></g>
<g id="o70"><text x="228" y="3874">当第一个运算数的值是false时，不再对第二个进行运算</text><path d="M60 3881H396"/></g>
<g id="o71"><text x="459.5" y="3906">规则</text><path d="M435 3913H484"/></g>
<g id="o72"><text x="459.5" y="3938">特性</text><path d="M435 3945H484"/></g>
<g id="o73"><text x="220" y="3906">当且仅当两个运算数都是false是，才返回false，否则返回true</text><path d="M29 3913H411"/></g>
<g id="o74"><text x="244" y="3938">当第一个运算数的值是true时，不再对第二个进行运算</text><path d="M77 3945H411"/></g>
<g id="o75"><text x="541" y="3970">？：</text><path d="M504 3977H578"/></g>
<g id="o76"><text x="461" y="3970">条件运算符</text><path d="M418 3977H504"/></g>
<g id="o77"><text x="535.5" y="4002">typeof</text><path d="M493 4009H578"/></g>
<g id="o78"><text x="454.5" y="4002">判断类型</text><path d="M418 4009H491"/></g>
<g id="o79"><text x="541" y="4034">，逗号</text><path d="M504 4041H578"/></g>
<g id="o80"><text x="384" y="4034">在一行语句中执行多个不同的操作</text><path d="M275 4041H493"/></g>
<g id="o81"><text x="552.5" y="4066">void</text><path d="M527 4073H578"/></g>
<g id="o82"><text x="351.5" y="4066">舍弃运算数的值，返回undefined作为表达式的值</text><path d="M199 4073H504"/></g>
</g>

<g id="collapse-buttons">
<use href="#cb" x="686" y="654"/><use href="#cb" x="613" y="324"/><use href="#cb" x="540" y="284"/><use href="#cb" x="441" y="284"/><use href="#cb" x="540" y="364"/><use href="#cb" x="454" y="333"/><use href="#cb" x="467" y="364"/><use href="#cb" x="467" y="396"/><use href="#cb" x="588" y="540"/><use href="#cb" x="613" y="700"/><use href="#cb" x="600" y="956"/><use href="#cb" x="502" y="788"/><use href="#cb" x="429" y="764"/><use href="#cb" x="429" y="812"/><use href="#cb" x="502" y="884"/><use href="#cb" x="429" y="860"/><use href="#cb" x="429" y="908"/><use href="#cb" x="515" y="972"/><use href="#cb" x="527" y="1124"/><use href="#cb" x="429" y="1148"/><use href="#cb" x="429" y="1213"/><use href="#cb" x="329" y="1196"/><use href="#cb" x="329" y="1228"/>
<use href="#cb" x="1453" y="1226"/><use href="#cb" x="1552" y="1044"/><use href="#cb" x="1652" y="917"/><use href="#cb" x="1786" y="884"/><use href="#cb" x="1793" y="916"/><use href="#cb" x="1798" y="948"/><use href="#cb" x="1652" y="996"/><use href="#cb" x="1746" y="980"/><use href="#cb" x="1775" y="1012"/><use href="#cb" x="1652" y="1044"/><use href="#cb" x="1652" y="1100"/><use href="#cb" x="1767" y="1100"/><use href="#cb" x="1840" y="1124"/><use href="#cb" x="1652" y="1173"/><use href="#cb" x="1552" y="1236"/><use href="#cb" x="1652" y="1204"/><use href="#cb" x="1775" y="1204"/><use href="#cb" x="1652" y="1236"/><use href="#cb" x="1773" y="1236"/><use href="#cb" x="1652" y="1268"/><use href="#cb" x="1801" y="1268"/><use href="#cb" x="1552" y="1381"/><use href="#cb" x="1748" y="1301"/><use href="#cb" x="1719" y="1332"/><use href="#cb" x="1750" y="1364"/><use href="#cb" x="1777" y="1396"/><use href="#cb" x="1700" y="1428"/><use href="#cb" x="1742" y="1460"/>
<use href="#cb" x="1144" y="1664"/><use href="#cb" x="1243" y="1506"/><use href="#cb" x="1217" y="1618"/><use href="#cb" x="1217" y="1794"/><use href="#cb" x="1316" y="1746"/><use href="#cb" x="1391" y="1730"/><use href="#cb" x="1386" y="1762"/><use href="#cb" x="1329" y="1842"/><use href="#cb" x="1416" y="1794"/><use href="#cb" x="1421" y="1826"/><use href="#cb" x="1417" y="1858"/><use href="#cb" x="1401" y="1890"/>
<use href="#cb" x="480" y="1713"/><use href="#cb" x="406" y="1683"/>
<use href="#cb" x="680" y="2278"/><use href="#cb" x="581" y="1997"/><use href="#cb" x="581" y="2141"/><use href="#cb" x="507" y="2189"/><use href="#cb" x="607" y="2253"/><use href="#cb" x="487" y="2221"/><use href="#cb" x="519" y="2253"/><use href="#cb" x="497" y="2285"/><use href="#cb" x="607" y="2533"/><use href="#cb" x="534" y="2349"/><use href="#cb" x="534" y="2429"/><use href="#cb" x="534" y="2493"/><use href="#cb" x="534" y="2557"/><use href="#cb" x="507" y="2637"/><use href="#cb" x="507" y="2717"/>
<use href="#cb" x="1116" y="2369"/><use href="#cb" x="1214" y="2148"/><use href="#cb" x="1294" y="2044"/><use href="#cb" x="1366" y="2028"/><use href="#cb" x="1366" y="2060"/><use href="#cb" x="1316" y="2108"/><use href="#cb" x="1388" y="2092"/><use href="#cb" x="1284" y="2171"/><use href="#cb" x="1296" y="2252"/><use href="#cb" x="1214" y="2347"/><use href="#cb" x="1214" y="2563"/><use href="#cb" x="1269" y="2459"/><use href="#cb" x="1301" y="2667"/><use href="#cb" x="1374" y="2571"/><use href="#cb" x="1374" y="2667"/><use href="#cb" x="1374" y="2763"/>
<use href="#cb" x="706" y="3570"/><use href="#cb" x="594" y="3101"/><use href="#cb" x="509" y="3007"/><use href="#cb" x="451" y="2851"/><use href="#cb" x="379" y="2811"/><use href="#cb" x="188" y="2843"/><use href="#cb" x="340" y="2892"/><use href="#cb" x="456" y="2971"/><use href="#cb" x="291" y="3004"/><use href="#cb" x="456" y="3051"/><use href="#cb" x="456" y="3115"/><use href="#cb" x="449" y="3163"/><use href="#cb" x="457" y="3195"/><use href="#cb" x="607" y="3307"/><use href="#cb" x="535" y="3243"/><use href="#cb" x="535" y="3307"/><use href="#cb" x="431" y="3371"/><use href="#cb" x="318" y="3355"/><use href="#cb" x="318" y="3387"/><use href="#cb" x="596" y="3483"/><use href="#cb" x="535" y="3419"/><use href="#cb" x="521" y="3451"/><use href="#cb" x="509" y="3483"/><use href="#cb" x="528" y="3515"/><use href="#cb" x="521" y="3547"/><use href="#cb" x="596" y="3819"/><use href="#cb" x="495" y="3723"/><use href="#cb" x="410" y="3659"/><use href="#cb" x="337" y="3612"/><use href="#cb" x="333" y="3708"/><use href="#cb" x="421" y="3787"/><use href="#cb" x="485" y="3851"/><use href="#cb" x="412" y="3835"/><use href="#cb" x="412" y="3867"/><use href="#cb" x="501" y="3915"/><use href="#cb" x="427" y="3899"/><use href="#cb" x="427" y="3931"/><use href="#cb" x="596" y="4011"/><use href="#cb" x="521" y="3963"/><use href="#cb" x="507" y="3995"/><use href="#cb" x="508" y="4027"/><use href="#cb" x="521" y="4059"/>
</g>
</svg>
